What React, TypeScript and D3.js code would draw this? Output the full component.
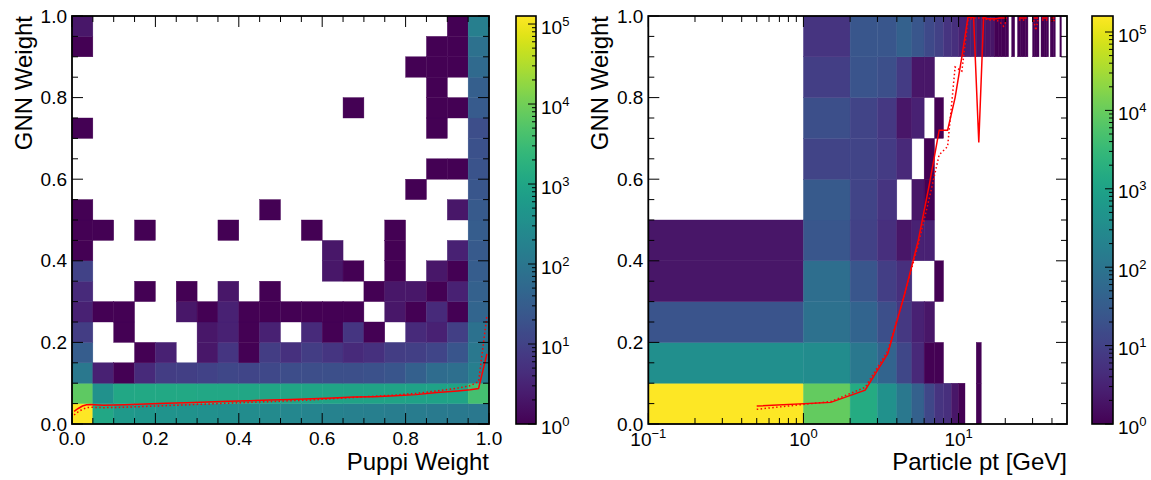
import React from "react";
import * as d3 from "d3";

const FONT = "'Liberation Sans', Arial, Helvetica, sans-serif";

// ---------- Left panel: GNN weight vs PUPPI weight (20 x 20 bins) ----------
// Rows are listed from the top bin (GNN 0.95–1.00) down to the bottom bin (0.00–0.05);
// columns run over PUPPI weight 0.00–0.05 ... 0.95–1.00.
const puppiCounts: number[][] = [
  [2, 0, 0, 0, 0, 0, 0, 0, 0, 0, 0, 0, 0, 0, 0, 0, 0, 0, 1, 150],
  [1, 0, 0, 0, 0, 0, 0, 0, 0, 0, 0, 0, 0, 0, 0, 0, 0, 1, 1, 75],
  [0, 0, 0, 0, 0, 0, 0, 0, 0, 0, 0, 0, 0, 0, 0, 0, 1, 1, 1, 55],
  [0, 0, 0, 0, 0, 0, 0, 0, 0, 0, 0, 0, 0, 0, 0, 0, 0, 1, 0, 33],
  [0, 0, 0, 0, 0, 0, 0, 0, 0, 0, 0, 0, 0, 1, 0, 0, 0, 1, 1, 28],
  [1, 0, 0, 0, 0, 0, 0, 0, 0, 0, 0, 0, 0, 0, 0, 0, 0, 1, 0, 16],
  [0, 0, 0, 0, 0, 0, 0, 0, 0, 0, 0, 0, 0, 0, 0, 0, 0, 0, 0, 18],
  [0, 0, 0, 0, 0, 0, 0, 0, 0, 0, 0, 0, 0, 0, 0, 0, 0, 1, 1, 20],
  [0, 0, 0, 0, 0, 0, 0, 0, 0, 0, 0, 0, 0, 0, 0, 0, 1, 0, 0, 23],
  [1, 0, 0, 0, 0, 0, 0, 0, 0, 1, 0, 0, 0, 0, 0, 0, 0, 0, 2, 27],
  [1, 1, 0, 1, 0, 0, 0, 1, 0, 0, 0, 1, 0, 0, 0, 1, 0, 0, 0, 30],
  [1, 0, 0, 0, 0, 0, 0, 0, 0, 0, 0, 0, 2, 0, 0, 1, 0, 0, 3, 26],
  [10, 0, 0, 0, 0, 0, 0, 0, 0, 0, 0, 0, 2, 1, 0, 1, 0, 2, 1, 30],
  [4, 0, 0, 1, 0, 1, 0, 2, 0, 1, 0, 0, 0, 0, 1, 2, 2, 1, 3, 36],
  [3, 1, 1, 0, 0, 2, 1, 3, 1, 1, 1, 1, 1, 1, 0, 2, 1, 4, 1, 45],
  [8, 0, 1, 0, 0, 0, 2, 3, 1, 3, 0, 4, 1, 6, 1, 0, 4, 3, 9, 80],
  [30, 0, 0, 1, 3, 0, 2, 6, 1, 8, 5, 8, 6, 4, 5, 8, 9, 11, 22, 110],
  [110, 3, 1, 4, 8, 9, 10, 12, 11, 13, 15, 16, 17, 17, 18, 22, 35, 60, 70, 150],
  [6700, 355, 1100, 1150, 1150, 1150, 1100, 1100, 1050, 1000, 1000, 950, 950, 900, 900, 900, 850, 850, 900, 3700],
  [126000, 1100, 550, 480, 420, 380, 350, 320, 290, 260, 230, 200, 180, 160, 150, 140, 130, 120, 115, 110],
];
const puppiColorMax = 1.26e5;

// Profile of GNN weight along PUPPI weight
const puppiProfileX = [0.005, 0.015, 0.025, 0.035, 0.045, 0.075, 0.125, 0.175, 0.225, 0.275, 0.325, 0.375, 0.425, 0.475, 0.525, 0.575, 0.625, 0.675, 0.725, 0.775, 0.825, 0.875, 0.925, 0.955, 0.975, 0.995];
const puppiMean = [0.031, 0.038, 0.044, 0.047, 0.048, 0.046, 0.047, 0.049, 0.051, 0.052, 0.054, 0.056, 0.057, 0.059, 0.06, 0.062, 0.064, 0.066, 0.067, 0.069, 0.072, 0.077, 0.081, 0.084, 0.087, 0.172];
const puppiMedian = [0.022, 0.03, 0.036, 0.04, 0.041, 0.04, 0.041, 0.043, 0.045, 0.047, 0.049, 0.051, 0.053, 0.055, 0.057, 0.059, 0.062, 0.065, 0.068, 0.071, 0.075, 0.081, 0.088, 0.094, 0.104, 0.265];

// ---------- Right panel: GNN weight vs particle pt (1 GeV bins, 0.1 GNN bins) ----------
// Row 0 is GNN 0.0–0.1; entry i is pt bin [i, i+1) GeV (missing entries are empty).
const ptCounts: number[][] = [
  [160000, 9000, 1500, 400, 120, 40, 13, 6, 5, 2, 1, 0, 0, 1],
  [380, 330, 120, 45, 13, 4, 1, 1, 0, 0, 0, 0, 0, 1],
  [22, 85, 45, 18, 7, 3, 2],
  [2, 72, 25, 9, 5, 0, 0, 1],
  [2, 25, 10, 5, 2, 3, 3],
  [0, 28, 11, 6, 0, 2, 1],
  [0, 11, 11, 8, 4, 0, 1],
  [0, 18, 11, 7, 2, 3, 0, 1],
  [0, 9, 22, 18, 8, 2, 2],
  [0, 6, 25, 25, 40, 25, 14, 10, 6, 5, 3, 3, 3, 2, 2, 2, 2, 1, 1, 1, 1, 0, 1, 0, 1, 1, 1, 1, 0, 0, 1, 1, 1, 0, 1, 1, 1, 1, 0, 1, 1, 1, 0, 0, 0, 1],
];
const ptColorMax = 1.6e5;

// Profile of GNN weight per pt bin (null = empty bin)
const ptMean: (number | null)[] = [0.044, 0.053, 0.083, 0.173, 0.32, 0.45, 0.59, 0.72, 0.72, 0.8, 0.9, 0.997, 0.997, 0.69, 0.997, 0.993, 0.993, 0.993, 0.995, 0.995, 0.995, null, 0.995, null, 0.995, 0.995, 0.995, 0.995, null, null, 0.995, 0.995, 0.995, null, 0.995, 0.995, 0.995, 0.995, null, 0.995, 0.995, 0.995, null, null, null, 0.995];
const ptMedian: (number | null)[] = [0.036, 0.055, 0.09, 0.18, 0.32, 0.44, 0.556, 0.66, 0.68, 0.875, 0.865, 0.99, 0.995, 0.995, 0.995, 0.99, 0.99, 0.99, 0.985, 0.975, 0.99, null, 0.99, null, 0.99, 0.99, 0.99, 0.99, null, null, 0.99, 0.965, 0.99, null, 0.99, 0.99, 0.99, 0.99, null, 0.99, 0.985, 0.99, null, null, null, 0.99];

const weightMajor = [0, 0.2, 0.4, 0.6, 0.8, 1.0];
const weightLabels = ["0.0", "0.2", "0.4", "0.6", "0.8", "1.0"];
const ptMajor = [0.1, 1, 10];
const ptMajorExp = ["\u22121", "0", "1"];
const colorDecades = [0, 1, 2, 3, 4, 5];

const weightEdges = d3.range(0, 21).map((i) => i / 20);
const gnnEdges10 = d3.range(0, 11).map((i) => i / 10);
const ptEdges = d3.range(0, 51);

// ---------- layout ----------
const PL = { x0: 72, x1: 489, y0: 16, y1: 424 };
const PR = { x0: 648.3, x1: 1067, y0: 16, y1: 424 };
const CBL = { x0: 516, x1: 536 };
const CBR = { x0: 1092, x1: 1113 };
const MAJ = 11;
const MIN = 6;
const TICK_FS = 19;
const LABEL_FS = 24;

type Scale = (v: number) => number;

function Cells({ counts, xEdges, yEdges, xs, ys, color, flipRows }: {
  counts: number[][]; xEdges: number[]; yEdges: number[]; xs: Scale; ys: Scale;
  color: (v: number) => string; flipRows: boolean;
}) {
  const nRows = yEdges.length - 1;
  const cells: React.ReactNode[] = [];
  for (let r = 0; r < nRows; r++) {
    const row = flipRows ? counts[nRows - 1 - r] : counts[r];
    for (let c = 0; c < xEdges.length - 1; c++) {
      const v = row[c] ?? 0;
      if (!v) continue;
      const xa = xs(xEdges[c]);
      const xb = xs(xEdges[c + 1]);
      const ya = ys(yEdges[r + 1]);
      const yb = ys(yEdges[r]);
      const fill = color(v);
      cells.push(
        <rect key={`${r}-${c}`} x={xa} y={ya} width={xb - xa} height={yb - ya}
          fill={fill} stroke={fill} strokeWidth={0.4} />
      );
    }
  }
  return <g>{cells}</g>;
}

function WeightYAxis({ p, ys }: { p: typeof PL; ys: Scale }) {
  const minors = d3.range(0, 21).map((i) => i / 20).filter((v) => Math.round(v * 20) % 4 !== 0);
  return (
    <g stroke="#000" strokeWidth={1}>
      {weightMajor.map((v) => (
        <g key={`M${v}`}>
          <line x1={p.x0} x2={p.x0 + MAJ} y1={ys(v)} y2={ys(v)} />
          <line x1={p.x1} x2={p.x1 - MAJ} y1={ys(v)} y2={ys(v)} />
        </g>
      ))}
      {minors.map((v) => (
        <g key={`m${v}`}>
          <line x1={p.x0} x2={p.x0 + MIN} y1={ys(v)} y2={ys(v)} />
          <line x1={p.x1} x2={p.x1 - MIN} y1={ys(v)} y2={ys(v)} />
        </g>
      ))}
      {weightMajor.map((v, i) => (
        <text key={`t${v}`} x={p.x0 - 5} y={ys(v) + 6.5} textAnchor="end" stroke="none"
          fill="#000" fontSize={TICK_FS} fontFamily={FONT}>{weightLabels[i]}</text>
      ))}
    </g>
  );
}

function Colorbar({ cb, vmax, id }: { cb: { x0: number; x1: number }; vmax: number; id: string }) {
  const ys = d3.scaleLog().domain([1, vmax]).range([PL.y1, PL.y0]);
  const stops = d3.range(0, 41).map((i) => i / 40);
  const minors: number[] = [];
  colorDecades.forEach((k) => {
    for (let m = 2; m <= 9; m++) {
      const v = m * Math.pow(10, k);
      if (v < vmax) minors.push(v);
    }
  });
  return (
    <g>
      <defs>
        <linearGradient id={id} x1="0" y1="1" x2="0" y2="0">
          {stops.map((t) => (
            <stop key={t} offset={t} stopColor={d3.interpolateViridis(t)} />
          ))}
        </linearGradient>
      </defs>
      <rect x={cb.x0} y={PL.y0} width={cb.x1 - cb.x0} height={PL.y1 - PL.y0} fill={`url(#${id})`} />
      <g stroke="#000" strokeWidth={1}>
        {colorDecades.map((k) => (
          <line key={`M${k}`} x1={cb.x1} x2={cb.x1 - 8} y1={ys(Math.pow(10, k))} y2={ys(Math.pow(10, k))} />
        ))}
        {minors.map((v) => (
          <line key={`m${v}`} x1={cb.x1} x2={cb.x1 - 4} y1={ys(v)} y2={ys(v)} />
        ))}
      </g>
      {colorDecades.map((k) => (
        <text key={`t${k}`} x={cb.x1 + 5} y={ys(Math.pow(10, k)) + 9.5} fontSize={TICK_FS}
          fontFamily={FONT} fill="#000">
          10<tspan dy={-8} fontSize={13}>{k}</tspan>
        </text>
      ))}
      <rect x={cb.x0} y={PL.y0} width={cb.x1 - cb.x0} height={PL.y1 - PL.y0} fill="none"
        stroke="#000" strokeWidth={1.6} />
    </g>
  );
}

export default function App() {
  // scales
  const xL = d3.scaleLinear().domain([0, 1]).range([PL.x0, PL.x1]);
  const yL = d3.scaleLinear().domain([0, 1]).range([PL.y1, PL.y0]);
  const xR = d3.scaleLog().domain([0.1, 50]).range([PR.x0, PR.x1]).clamp(true);
  const yR = d3.scaleLinear().domain([0, 1]).range([PR.y1, PR.y0]);
  const colL = d3.scaleSequentialLog(d3.interpolateViridis).domain([1, puppiColorMax]).clamp(true);
  const colR = d3.scaleSequentialLog(d3.interpolateViridis).domain([1, ptColorMax]).clamp(true);

  const lineL = d3.line<[number, number]>().x((d) => xL(d[0])).y((d) => yL(d[1]));
  const puppiMeanPts = puppiProfileX.map((x, i) => [x, puppiMean[i]] as [number, number]);
  const puppiMedPts = puppiProfileX.map((x, i) => [x, puppiMedian[i]] as [number, number]);

  const ptCenters = ptEdges.slice(0, -1).map((e) => e + 0.5);
  const lineR = d3.line<[number, number | null]>()
    .defined((d) => d[1] != null)
    .x((d) => xR(d[0]))
    .y((d) => yR(d[1] as number));
  const ptMeanPts = ptMean.map((v, i) => [ptCenters[i], v] as [number, number | null]);
  const ptMedPts = ptMedian.map((v, i) => [ptCenters[i], v] as [number, number | null]);

  // x ticks
  const weightMinorX = d3.range(0, 21).map((i) => i / 20).filter((v) => Math.round(v * 20) % 4 !== 0);
  const ptMinor: number[] = [];
  [0.1, 1, 10].forEach((d) => {
    for (let m = 2; m <= 9; m++) {
      const v = m * d;
      if (v < 50) ptMinor.push(v);
    }
  });

  return (
    <svg width={1151} height={480} style={{ display: "block", position: "absolute", left: 0, top: 0 }}
      fontFamily={FONT}>
      <rect x={0} y={0} width={1151} height={480} fill="#fff" />
      <defs>
        <clipPath id="clipR">
          <rect x={PR.x0} y={PR.y0} width={PR.x1 - PR.x0} height={PR.y1 - PR.y0} />
        </clipPath>
      </defs>

      {/* ----- left panel ----- */}
      <Cells counts={puppiCounts} xEdges={weightEdges} yEdges={weightEdges} xs={xL} ys={yL}
        color={colL} flipRows={true} />
      <path d={lineL(puppiMedPts) ?? ""} fill="none" stroke="#ff0000" strokeWidth={1.5}
        strokeDasharray="1.5 2.4" />
      <path d={lineL(puppiMeanPts) ?? ""} fill="none" stroke="#ff0000" strokeWidth={1.5} />
      <g stroke="#000" strokeWidth={1}>
        {weightMajor.map((v) => (
          <g key={`xM${v}`}>
            <line x1={xL(v)} x2={xL(v)} y1={PL.y1} y2={PL.y1 - MAJ} />
            <line x1={xL(v)} x2={xL(v)} y1={PL.y0} y2={PL.y0 + MAJ} />
          </g>
        ))}
        {weightMinorX.map((v) => (
          <g key={`xm${v}`}>
            <line x1={xL(v)} x2={xL(v)} y1={PL.y1} y2={PL.y1 - MIN} />
            <line x1={xL(v)} x2={xL(v)} y1={PL.y0} y2={PL.y0 + MIN} />
          </g>
        ))}
      </g>
      {weightMajor.map((v, i) => (
        <text key={`xl${v}`} x={xL(v)} y={PL.y1 + 21} textAnchor="middle" fontSize={TICK_FS}>
          {weightLabels[i]}
        </text>
      ))}
      <WeightYAxis p={PL} ys={yL} />
      <rect x={PL.x0} y={PL.y0} width={PL.x1 - PL.x0} height={PL.y1 - PL.y0} fill="none"
        stroke="#000" strokeWidth={1.8} />
      <text x={PL.x1} y={470} textAnchor="end" fontSize={LABEL_FS}>Puppi Weight</text>
      <text transform={`translate(${PL.x0 - 40},${PL.y0}) rotate(-90)`} textAnchor="end"
        fontSize={LABEL_FS}>GNN Weight</text>
      <Colorbar cb={CBL} vmax={puppiColorMax} id="vir-left" />

      {/* ----- right panel ----- */}
      <g clipPath="url(#clipR)">
        <Cells counts={ptCounts} xEdges={ptEdges} yEdges={gnnEdges10} xs={xR} ys={yR}
          color={colR} flipRows={false} />
      </g>
      <path d={lineR(ptMedPts) ?? ""} fill="none" stroke="#ff0000" strokeWidth={1.5}
        strokeDasharray="1.5 2.4" />
      <path d={lineR(ptMeanPts) ?? ""} fill="none" stroke="#ff0000" strokeWidth={1.5} />
      <g stroke="#000" strokeWidth={1}>
        {ptMajor.map((v) => (
          <g key={`pM${v}`}>
            <line x1={xR(v)} x2={xR(v)} y1={PR.y1} y2={PR.y1 - MAJ} />
            <line x1={xR(v)} x2={xR(v)} y1={PR.y0} y2={PR.y0 + MAJ} />
          </g>
        ))}
        {ptMinor.map((v) => (
          <g key={`pm${v}`}>
            <line x1={xR(v)} x2={xR(v)} y1={PR.y1} y2={PR.y1 - MIN} />
            <line x1={xR(v)} x2={xR(v)} y1={PR.y0} y2={PR.y0 + MIN} />
          </g>
        ))}
      </g>
      {ptMajor.map((v, i) => (
        <text key={`pl${v}`} x={xR(v)} y={PR.y1 + 22} textAnchor="middle" fontSize={TICK_FS}>
          10<tspan dy={-8} fontSize={13}>{ptMajorExp[i]}</tspan>
        </text>
      ))}
      <WeightYAxis p={PR} ys={yR} />
      <rect x={PR.x0} y={PR.y0} width={PR.x1 - PR.x0} height={PR.y1 - PR.y0} fill="none"
        stroke="#000" strokeWidth={1.8} />
      <text x={PR.x1} y={470} textAnchor="end" fontSize={LABEL_FS}>Particle pt [GeV]</text>
      <text transform={`translate(${PR.x0 - 40},${PR.y0}) rotate(-90)`} textAnchor="end"
        fontSize={LABEL_FS}>GNN Weight</text>
      <Colorbar cb={CBR} vmax={ptColorMax} id="vir-right" />
    </svg>
  );
}
